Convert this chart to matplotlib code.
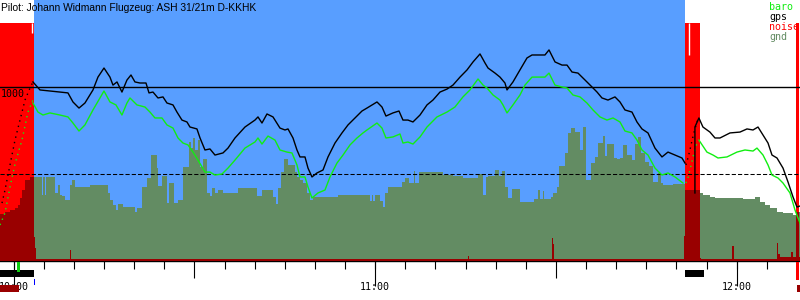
import matplotlib
matplotlib.use("Agg")
import matplotlib.pyplot as plt
from matplotlib.patches import Rectangle

# times are minutes after 10:00, heights in metres
title = "Pilot: Johann Widmann Flugzeug: ASH 31/21m D-KKHK"
hour_ticks = [0, 60, 120]
hour_labels = ["10:00", "11:00", "12:00"]
legend_names = ["baro", "gps", "noise", "gnd"]

# phases of the flight
blue_span = (3.35, 111.45)
red_spans = [(-2.27, 3.35), (111.45, 113.85), (129.8, 130.3)]
red_top = 1368
start_marks_t = [3.04, 112.13]
start_marks_bottom = [1310, 1184]

# gps altitude
gps_t = [3.20, 4.37, 6.02, 7.68, 9.01, 9.84, 10.84, 11.83, 13.16, 13.99, 14.99, 15.98, 16.48, 17.15,
         17.97, 18.80, 19.47, 20.13, 20.96, 21.96, 22.46, 23.12, 23.95, 24.78, 25.44, 26.44, 27.10,
         27.93, 28.76, 29.26, 30.42, 30.93, 31.75, 32.58, 33.41, 34.74, 35.57, 36.73, 38.39, 40.05,
         40.55, 41.21, 42.04, 43.04, 44.20, 45.03, 45.53, 46.36, 47.02, 47.52, 48.35, 48.85, 49.51,
         50.34, 51.34, 52.17, 53.33, 54.49, 55.49, 56.65, 57.81, 58.64, 60.30, 61.13, 61.79, 62.95,
         63.95, 64.61, 65.44, 66.27, 67.44, 68.60, 69.59, 70.76, 71.92, 72.91, 74.08, 75.24, 76.24,
         77.40, 78.23, 78.73, 79.89, 80.71, 81.54, 81.88, 82.87, 84.03, 85.20, 86.03, 87.02, 88.18,
         88.85, 89.85, 91.01, 91.84, 92.67, 93.66, 94.83, 95.99, 96.82, 97.64, 98.64, 99.80, 100.63,
         101.46, 102.62, 103.45, 104.28, 105.28, 106.44, 107.60, 108.60, 109.76, 110.92, 111.42]
gps_a = [1029, 983, 977, 971, 966, 914, 879, 908, 983, 1057, 1109, 1057, 1011, 1029,
         971, 1040, 1069, 1029, 1023, 1023, 966, 971, 937, 943, 908, 897, 856,
         810, 799, 770, 759, 707, 638, 644, 609, 621, 649, 707, 770, 810,
         828, 793, 845, 828, 764, 753, 759, 707, 638, 598, 598, 534, 483,
         506, 523, 598, 678, 736, 782, 822, 862, 879, 914, 885, 833, 851,
         862, 810, 810, 799, 839, 897, 925, 971, 988, 1011, 1057, 1098, 1144,
         1190, 1138, 1109, 1080, 1057, 1023, 983, 1029, 1098, 1167, 1184, 1184, 1184,
         1213, 1144, 1126, 1126, 1086, 1080, 1040, 1000, 971, 937, 925, 943, 914,
         868, 856, 799, 759, 736, 649, 598, 626, 609, 592, 563]
gps2_t = [113.07, 113.07, 113.73, 114.40, 115.56, 116.40, 117.23, 118.89, 120.55, 121.71, 122.71,
          123.54, 124.37, 125.20, 125.86, 126.69, 127.69, 128.52, 129.35, 130.01, 130.51]
gps2_a = [391, 770, 822, 770, 741, 707, 707, 736, 741, 759, 753,
          770, 724, 678, 609, 592, 534, 454, 368, 310, 316]
gps_tow_t = [-1.94, -1.44, -0.61, 0.22, 1.05, 1.88, 2.71, 3.20]
gps_tow_a = [333, 408, 552, 695, 810, 925, 994, 1029]
gps_climb_t = [111.58, 111.91, 112.24, 112.57, 112.90, 113.40, 113.73]
gps_climb_a = [552, 592, 638, 690, 736, 799, 822]

# barometric altitude
baro_t = [3.20, 4.03, 4.86, 6.02, 7.68, 9.01, 9.84, 10.84, 11.83, 13.16, 14.32, 14.99, 15.98, 16.98,
          17.97, 18.80, 19.30, 20.46, 21.79, 22.62, 23.45, 24.61, 25.44, 26.44, 27.27, 28.10, 28.93,
          29.76, 30.59, 31.75, 32.58, 33.41, 34.57, 35.57, 36.73, 38.39, 40.05, 40.55, 41.21, 42.21,
          43.37, 44.20, 45.36, 46.19, 47.02, 47.52, 48.35, 48.85, 49.51, 50.51, 51.67, 52.50, 53.66,
          54.66, 55.82, 56.98, 57.98, 58.64, 60.30, 61.13, 61.79, 62.95, 64.12, 64.61, 65.44, 66.27,
          67.44, 68.60, 70.26, 71.92, 73.24, 74.57, 75.73, 77.07, 77.90, 78.56, 79.56, 80.71, 81.21,
          81.88, 82.87, 84.03, 84.86, 86.03, 87.02, 88.18, 88.85, 89.85, 91.01, 91.84, 92.83, 93.99,
          95.15, 96.15, 97.31, 98.47, 99.47, 100.63, 101.46, 102.62, 103.45, 104.28, 105.28, 106.44,
          107.60, 108.60, 109.76, 111.09]
baro_a = [908, 856, 839, 851, 839, 828, 793, 747, 782, 868, 937, 977, 914, 897,
          839, 908, 937, 897, 885, 856, 822, 822, 782, 764, 707, 678, 667,
          626, 580, 511, 511, 494, 500, 534, 580, 649, 684, 707, 672, 718,
          695, 638, 626, 621, 552, 483, 483, 425, 362, 391, 408, 483, 563,
          609, 667, 707, 736, 753, 793, 764, 707, 713, 730, 678, 684, 672,
          713, 770, 828, 856, 885, 943, 983, 1046, 1011, 994, 954, 925, 897,
          851, 897, 954, 1011, 1057, 1057, 1057, 1080, 1011, 1000, 994, 954, 943,
          908, 868, 828, 810, 822, 799, 747, 736, 695, 638, 609, 534,
          494, 506, 483, 448]
baro2_t = [113.73, 115.06, 116.07, 116.90, 118.39, 120.05, 121.38, 122.71, 123.37, 124.37, 125.20,
           125.86, 126.86, 127.69, 128.85, 129.68, 130.51]
baro2_a = [695, 626, 609, 592, 598, 626, 638, 632, 649, 609, 552,
           494, 477, 448, 391, 293, 218]
baro_tow_t = [-2.27, -1.44, -0.61, 0.22, 1.38, 2.37, 3.20]
baro_tow_a = [207, 276, 425, 557, 695, 856, 925]
baro_climb_t = [111.58, 111.91, 112.24, 112.57, 112.90, 113.24, 113.57]
baro_climb_a = [448, 477, 523, 569, 621, 661, 690]

# terrain under the track
ground_t = [-2.27, -1.44, -0.61, 0.22, 0.71, 1.05, 1.38, 1.88, 2.71, 3.20, 4.70, 4.86, 5.20, 5.36,
            6.85, 7.35, 7.68, 8.02, 8.51, 9.34, 9.68, 10.18, 12.66, 15.65, 15.98, 16.48, 16.98,
            17.31, 18.14, 20.13, 20.46, 21.29, 22.12, 22.79, 23.78, 23.95, 24.61, 25.44, 25.78,
            26.61, 27.27, 28.10, 29.10, 29.43, 29.76, 30.09, 30.59, 30.92, 31.42, 32.08, 32.58,
            32.91, 33.41, 33.91, 34.74, 37.23, 40.38, 41.21, 43.04, 43.54, 43.87, 44.37, 44.87,
            45.53, 46.69, 47.02, 47.52, 48.02, 48.68, 49.18, 49.68, 53.83, 59.14, 59.47, 59.63,
            59.97, 60.80, 61.30, 61.63, 62.13, 64.45, 64.95, 65.61, 66.44, 66.61, 67.27, 71.25,
            72.91, 74.57, 77.07, 77.90, 78.39, 78.73, 79.89, 80.55, 81.05, 81.54, 82.04, 82.71,
            84.03, 86.36, 87.02, 87.35, 87.85, 88.02, 89.18, 89.51, 90.18, 90.51, 91.51, 92.00,
            92.50, 93.16, 93.99, 94.49, 94.99, 95.82, 96.48, 96.98, 97.81, 98.14, 98.47, 99.64,
            100.13, 100.63, 101.13, 101.79, 102.62, 103.12, 103.62, 104.12, 104.78, 105.45,
            106.11, 106.94, 107.44, 107.77, 109.43, 111.42, 113.90, 114.40, 115.57, 116.40,
            121.05, 123.04, 123.87, 124.70, 125.53, 126.69, 127.69, 129.35, 129.85, 130.51]
ground_a = [270, 282, 293, 305, 322, 362, 408, 466, 483, 483, 379, 483, 379, 483,
            391, 437, 379, 374, 351, 437, 466, 425, 437, 391, 351, 322, 293,
            328, 310, 282, 305, 425, 477, 609, 534, 431, 489, 333, 448,
            333, 351, 540, 684, 649, 707, 638, 695, 540, 586, 391, 374,
            420, 391, 408, 391, 420, 374, 408, 368, 328, 420, 511, 586,
            552, 511, 483, 466, 448, 391, 351, 368, 379, 345, 379, 345,
            379, 345, 310, 391, 425, 454, 477, 448, 517, 448, 511, 494,
            489, 477, 500, 379, 483, 489, 523, 489, 517, 425, 362, 414,
            339, 356, 408, 356, 402, 356, 368, 391, 425, 546, 621, 736,
            764, 741, 638, 770, 466, 563, 598, 678, 718, 603, 672, 592,
            586, 592, 667, 609, 580, 672, 713, 621, 569, 546,
            454, 506, 448, 437, 443, 408, 391, 379, 368, 362,
            356, 368, 339, 322, 305, 282, 276, 264, 282, 282]

# noise level
noise_t = [-2.27, 3.20, 3.53, 3.70, 9.34, 9.51, 75.40, 75.57, 89.35, 89.51, 89.68, 111.25, 111.42,
           113.90, 114.07, 119.22, 119.55, 126.69, 126.86, 127.19, 129.02, 129.35, 129.85, 130.51]
noise_v = [10, 138, 75, 10, 63, 10, 29, 10, 132, 98, 10, 144, 400,
           17, 10, 86, 10, 103, 40, 25, 50, 25, 25, 25]

# markers under the time axis
engine_spans = [(-2.27, 3.37), (111.42, 114.57)]
release_mark = (0.55, 1.05)
start_tick = (3.37, 3.53)
darkred_marks = [(-2.27, 0.88), (130.01, 130.51)]
red_mark = (129.85, 130.34)

blue = "#589eff"
red = "#ff0000"
dark_red = "#990000"
gnd_green = "#638c63"
baro_green = "#11ee11"
mono = "DejaVu Sans Mono"

x_lim = (-2.27, 130.51)
y_lim = (0, 1500)

fig = plt.figure(figsize=(8, 3), dpi=100)
ax = fig.add_axes([0, 39 / 300, 1, 261 / 300])
ax.set_xlim(*x_lim)
ax.set_ylim(*y_lim)

# background phases
ax.axvspan(*blue_span, color=blue, lw=0, zorder=0)
for s, e in red_spans:
    ax.axvspan(s, e, ymax=red_top / y_lim[1], color=red, lw=0, zorder=0)
ax.vlines(start_marks_t, start_marks_bottom, red_top, color="white", lw=1, zorder=1)

# ground, dark red inside the red phases
ax.fill_between(ground_t, ground_a, step="post", color=gnd_green, lw=0, zorder=2)
for s, e in red_spans:
    p = ax.fill_between(ground_t, ground_a, step="post", color=dark_red, lw=0, zorder=2)
    p.set_clip_path(Rectangle((s, 0), e - s, y_lim[1], transform=ax.transData))
ax.fill_between(noise_t, noise_v, step="post", color=dark_red, lw=0, zorder=3)

# reference lines
ax.axhline(1000, color="black", lw=1, zorder=4)
ax.axhline(500, color="black", lw=0.75, ls=(0, (4, 2)), zorder=4)
ax.text(x_lim[0] + 0.1, 990, "1000", family=mono, fontsize=7.2, va="top", ha="left", zorder=5)

# altitude traces
ax.plot(baro_t, baro_a, color=baro_green, lw=1, zorder=5)
ax.plot(baro2_t, baro2_a, color=baro_green, lw=1, zorder=5)
ax.plot(baro_tow_t, baro_tow_a, color=baro_green, lw=1, ls=(0, (1, 3)), zorder=5)
ax.plot(baro_climb_t, baro_climb_a, color=baro_green, lw=1, ls=(0, (1, 3)), zorder=5)
ax.plot(gps_t, gps_a, color="black", lw=1, zorder=6)
ax.plot(gps2_t, gps2_a, color="black", lw=1, zorder=6)
ax.plot(gps_tow_t, gps_tow_a, color="black", lw=1, ls=(0, (1, 3)), zorder=6)
ax.plot(gps_climb_t, gps_climb_a, color="black", lw=1, ls=(0, (1, 3)), zorder=6)

# axes and time ticks
for side in ["top", "left", "right"]:
    ax.spines[side].set_visible(False)
ax.spines["bottom"].set_linewidth(1)
ax.set_yticks([])
ax.set_xticks(range(30, 131, 60))
ax.set_xticklabels([])
ax.set_xticks(range(0, 131, 5), minor=True)
ax.tick_params(axis="x", which="major", length=12, width=0.8)
ax.tick_params(axis="x", which="minor", length=6, width=0.8)
sec = ax.secondary_xaxis("bottom")
sec.set_xticks(hour_ticks, labels=hour_labels)
sec.tick_params(length=18, width=0.8, pad=-2.6, labelsize=7.2)
for lab in sec.get_xticklabels():
    lab.set_family(mono)
sec.spines["bottom"].set_visible(False)

# markers below the axis
tr = ax.get_xaxis_transform()
for s, e in engine_spans:
    ax.add_patch(Rectangle((s, -16 / 261), e - s, 7 / 261, transform=tr, color="black",
                           lw=0, clip_on=False, zorder=7))
ax.add_patch(Rectangle((release_mark[0], -11 / 261), release_mark[1] - release_mark[0], 10 / 261,
                       transform=tr, color="#11cc11", lw=0, clip_on=False, zorder=7))
ax.add_patch(Rectangle((start_tick[0], -24 / 261), start_tick[1] - start_tick[0], 6 / 261,
                       transform=tr, color="blue", lw=0, clip_on=False, zorder=7))
for s, e in darkred_marks:
    ax.add_patch(Rectangle((s, -31 / 261), e - s, 7 / 261, transform=tr, color=dark_red,
                           lw=0, clip_on=False, zorder=1))
ax.add_patch(Rectangle((red_mark[0], -19 / 261), red_mark[1] - red_mark[0], 18 / 261,
                       transform=tr, color=red, lw=0, clip_on=False, zorder=7))

# header and legend
fig.text(1 / 800, 1 - 8 / 300, title, family="Liberation Sans", fontsize=7.4, va="center")
legend_colors = [baro_green, "black", red, gnd_green]
for i, (name, c) in enumerate(zip(legend_names, legend_colors)):
    fig.text(769 / 800, 1 - (7 + 10 * i) / 300, name, color=c, family=mono, fontsize=7.2,
             va="center", ha="left")

fig.savefig("out.png", dpi=100)
